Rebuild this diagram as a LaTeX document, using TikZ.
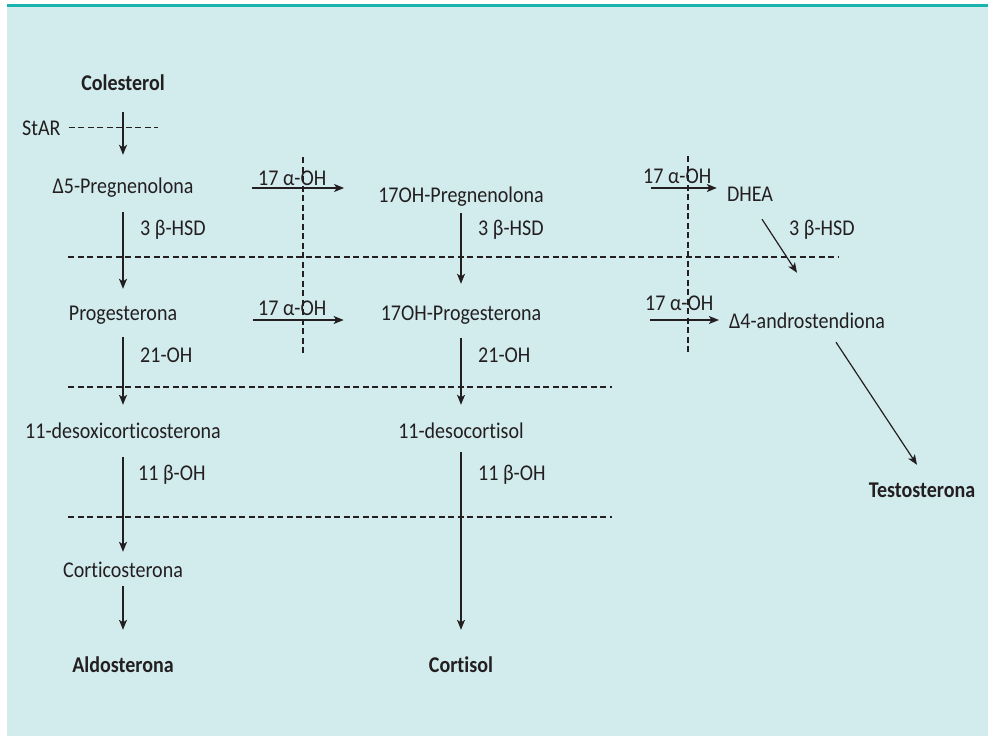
\documentclass[tikz,border=0pt]{standalone}
\usepackage{fontspec}
\setmainfont{Carlito}[FakeStretch=0.89,Ligatures=NoCommon]
\usetikzlibrary{arrows.meta}
\definecolor{bgcyan}{HTML}{D2ECEE}
\definecolor{topteal}{HTML}{1AB3AE}
\definecolor{ink}{HTML}{231F20}

\begin{document}
\begin{tikzpicture}[x=1pt,y=-1pt,
  font=\fontsize{22.5}{27}\selectfont,
  cpd/.style={anchor=base,inner sep=0pt,text height=15pt,text depth=5pt,text=ink},
  cpdb/.style={cpd,font=\fontsize{22.5}{27}\selectfont\bfseries},
  enz/.style={anchor=base west,inner sep=0pt,text=ink},
  arr/.style={draw=ink,line width=1.2pt,-{Stealth[length=10pt,width=8pt,inset=2.5pt]}},
  sep/.style={draw=ink,line width=1.1pt,dash pattern=on 6pt off 3.5pt}]
\def\xL{123}
\def\xM{461}
\useasboundingbox (0,0) rectangle (988,736);
\fill[white] (0,0) rectangle (988,736);
\fill[bgcyan] (7,7) rectangle (988,736);
\fill[topteal] (7,4) rectangle (988,7);

\node[cpdb] (col) at (\xL,90) {Colesterol};
\node[cpd] (dpreg) at (\xL,193) {Δ5-Pregnenolona};
\node[cpd] (prog) at (\xL,320) {Progesterona};
\node[cpd] (doc) at (\xL,438) {11-desoxicorticosterona};
\node[cpd] (cortico) at (\xL,577) {Corticosterona};
\node[cpdb] (aldo) at (\xL,672) {Aldosterona};
\node[cpd] (ohpreg) at (\xM,202) {17OH-Pregnenolona};
\node[cpd] (ohprog) at (\xM,320) {17OH-Progesterona};
\node[cpd] (dcort) at (\xM,438) {11-desocortisol};
\node[cpdb] (cortisol) at (\xM,672) {Cortisol};
\node[cpd] (dhea) at (750,201) {DHEA};
\node[cpd] (andro) at (807,328) {Δ4-androstendiona};
\node[cpdb] (testo) at (922,497) {Testosterona};

\node[enz] (star) at (22,135) {StAR};
\node[enz] (hsdL) at (140,235) {3 β-HSD};
\node[enz] (ohL) at (140,362) {21-OH};
\node[enz] (boL) at (138,480) {11 β-OH};
\node[enz] (hsdM) at (478,235) {3 β-HSD};
\node[enz] (ohM) at (478,362) {21-OH};
\node[enz] (boM) at (478,480) {11 β-OH};
\node[enz] (hsdR) at (789,235) {3 β-HSD};
\node[enz] (aoh1) at (258,185) {17 α-OH};
\node[enz] (aoh2) at (258,315) {17 α-OH};
\node[enz] (aoh3) at (643,183) {17 α-OH};
\node[enz] (aoh4) at (645,310) {17 α-OH};

\draw[sep] ([xshift=8pt]star.east) -- ++(89,0);
\draw[sep] (68,257) -- (838,257);
\draw[sep] (68,387) -- (612,387);
\draw[sep] (68,517) -- (612,517);
\draw[sep] (303,157) -- (303,353);
\draw[sep] (688,156) -- (688,353);

\draw[arr,shorten <=17pt,shorten >=23pt] (col.south) -- (dpreg.north);
\draw[arr,shorten <=14pt,shorten >=16pt] (dpreg.south) -- (prog.north);
\draw[arr,shorten <=12pt,shorten >=18pt] (prog.south) -- (doc.north);
\draw[arr,shorten <=14pt,shorten >=10pt] (doc.south) -- (cortico.north);
\draw[arr,shorten <=4pt,shorten >=27pt] (cortico.south) -- (aldo.north);
\draw[arr,shorten <=6pt,shorten >=21pt] (ohpreg.south) -- (ohprog.north);
\draw[arr,shorten <=13pt,shorten >=18pt] (ohprog.south) -- (dcort.north);
\draw[arr,shorten <=9pt,shorten >=27pt] (dcort.south) -- (cortisol.north);

\draw[arr,shorten <=58pt,shorten >=34pt] (dpreg.east) -- (dpreg.east -| ohpreg.west);
\draw[arr,shorten <=107pt,shorten >=10pt] ([yshift=9pt]ohpreg.east) -- ([yshift=9pt]ohpreg.east -| dhea.west);
\draw[arr,shorten <=76pt,shorten >=37pt] (prog.base east) -- (prog.base east -| ohprog.west);
\draw[arr,shorten <=109pt,shorten >=10pt] (ohprog.base east) -- (ohprog.base east -| andro.west);
\draw[arr] ([shift={(12,13)}]dhea.south) -- ([shift={(-10,-40)}]andro.north);
\draw[arr] ([shift={(29,9)}]andro.south) -- ([shift={(-5,-17)}]testo.north);
\end{tikzpicture}
\end{document}
